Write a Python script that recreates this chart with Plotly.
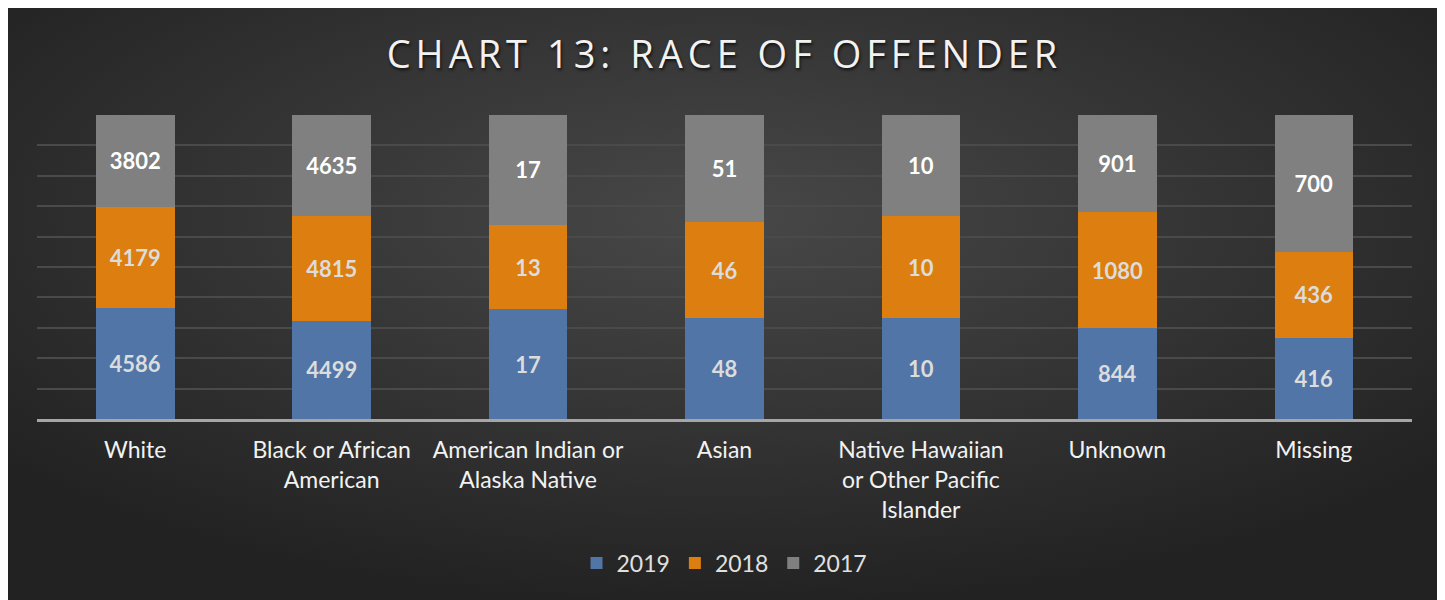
import base64

import plotly.graph_objects as go

categories = [
    "White",
    "Black or African<br>American",
    "American Indian or<br>Alaska Native",
    "Asian",
    "Native Hawaiian<br>or Other Pacific<br>Islander",
    "Unknown",
    "Missing",
]
y2019 = [4586, 4499, 17, 48, 10, 844, 416]
y2018 = [4179, 4815, 13, 46, 10, 1080, 436]
y2017 = [3802, 4635, 17, 51, 10, 901, 700]

series = [
    ("2019", y2019, "#5075a6", "#dcdcdc"),
    ("2018", y2018, "#dd7e10", "#dcdcdc"),
    ("2017", y2017, "#808080", "#ffffff"),
]

FONT = "Lato, 'Open Sans', sans-serif"
# page body adds an 8px margin, so the figure itself starts at (8, 8)
W, H = 1434, 600
L, R, T, B = 29, 30, 107, 189
PW, PH = W - L - R, H - T - B

# dark radial backdrop, like the office "dark" chart style
svg = f"""<svg xmlns='http://www.w3.org/2000/svg' width='{W}' height='{H}'>
<defs><radialGradient id='g' cx='50%' cy='35%' r='65%'>
<stop offset='0%' stop-color='#484848'/><stop offset='100%' stop-color='#222222'/>
</radialGradient></defs><rect width='{W}' height='{H}' fill='url(#g)'/></svg>"""
bg = "data:image/svg+xml;base64," + base64.b64encode(svg.encode()).decode()

fig = go.Figure()
for name, vals, color, txtcol in series:
    fig.add_trace(go.Bar(
        x=categories, y=vals, name=name,
        marker=dict(color=color, line=dict(width=0)),
        text=vals, texttemplate="%{text}", textposition="inside",
        insidetextanchor="middle", textangle=0,
        textfont=dict(family=FONT, size=22, color=txtcol, weight="bold"),
        hoverinfo="skip",
    ))

fig.update_layout(
    width=W, height=H,
    margin=dict(l=L, r=R, t=T, b=B),
    barmode="stack", barnorm="percent", bargap=0.6,
    paper_bgcolor="#2a2a2a", plot_bgcolor="rgba(0,0,0,0)",
    images=[dict(
        source=bg, xref="paper", yref="paper",
        x=-L / PW, y=1 + T / PH, sizex=W / PW, sizey=H / PH,
        xanchor="left", yanchor="top", sizing="stretch", layer="below",
    )],
    title=dict(
        text='<span style="letter-spacing:5px">CHART 13: RACE OF OFFENDER</span>',
        x=0.5, xref="paper", xanchor="center",
        y=1 - 47 / H, yref="container", yanchor="middle",
        font=dict(family="'Open Sans', Lato, sans-serif", size=38,
                  color="#f2f2f2", weight=400,
                  shadow="1px 2px 3px #111111"),
    ),
    legend=dict(
        orientation="h", x=0.5, xanchor="center",
        y=(H - B - 555) / PH, yanchor="middle",
        font=dict(family=FONT, size=23, color="#e0e0e0"),
        traceorder="normal", itemsizing="constant",
        bgcolor="rgba(0,0,0,0)",
    ),
    showlegend=True,
)
fig.update_xaxes(
    showline=True, linecolor="#a6a6a6", linewidth=2.5,
    ticks="outside", ticklen=9, tickcolor="rgba(0,0,0,0)",
    tickfont=dict(family=FONT, size=23, color="#f2f2f2"),
    showgrid=False, fixedrange=True,
)
fig.update_yaxes(
    range=[0, 100], dtick=10, showticklabels=False,
    showgrid=True, gridcolor="#4a4a4a", gridwidth=2,
    zeroline=False, fixedrange=True,
)

fig.write_html("out.html")
